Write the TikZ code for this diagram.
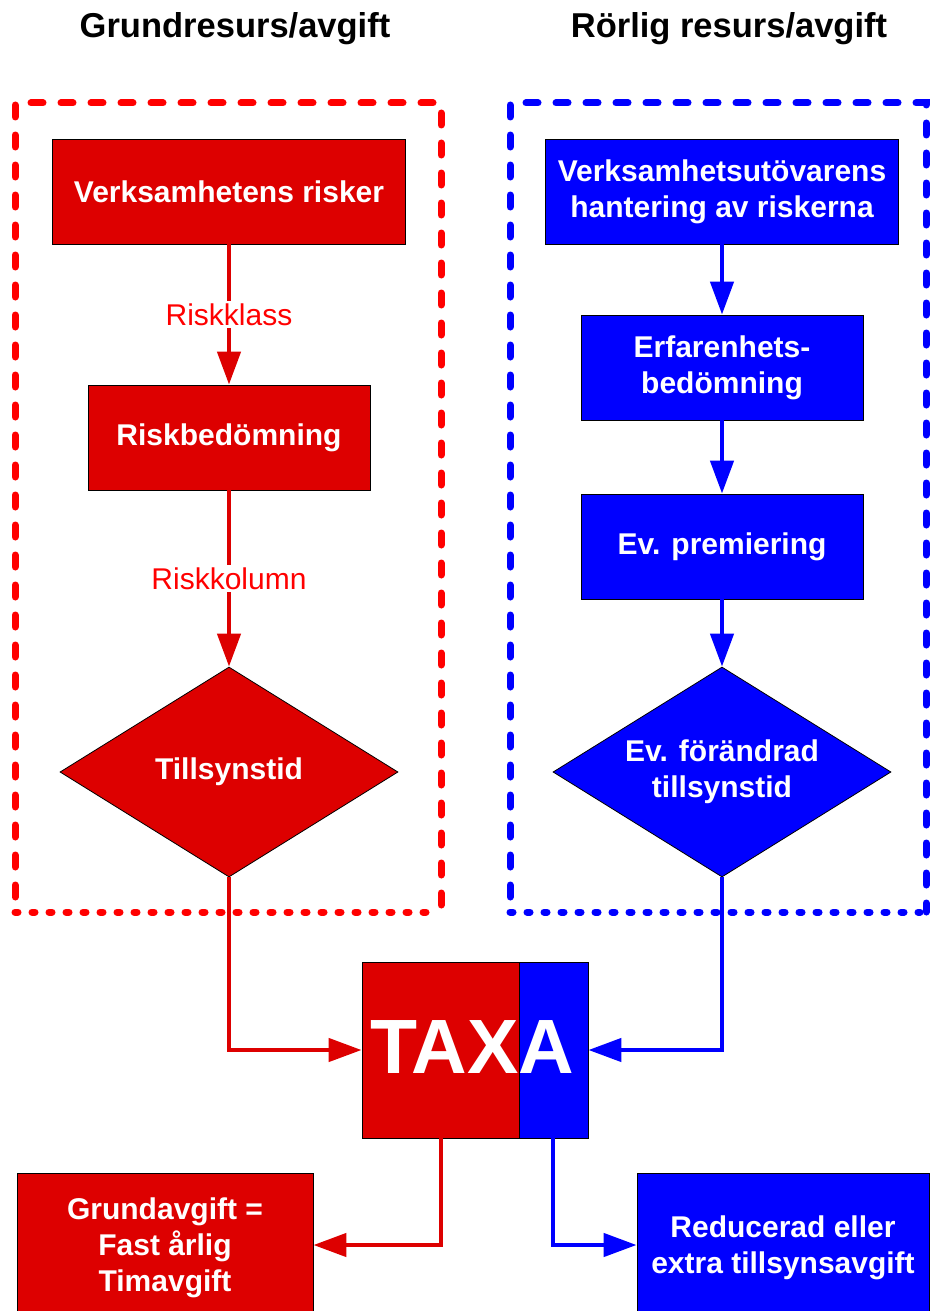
\documentclass[tikz,border=0pt]{standalone}
\usepackage{fontspec}
\setmainfont{Liberation Sans}
\usetikzlibrary{shapes.geometric,arrows.meta}
\definecolor{rfill}{HTML}{DD0000}
\definecolor{rdash}{HTML}{FF0000}
\definecolor{bfill}{HTML}{0000FF}
\tikzset{
  box/.style={draw=black, line width=0.8pt, inner sep=0pt, align=center, text=white,
    font=\fontsize{30}{36}\selectfont\bfseries},
  rbox/.style={box, fill=rfill},
  bbox/.style={box, fill=bfill},
  dia/.style={diamond, draw=black, line width=0.8pt, inner sep=0pt, align=center, text=white,
    minimum width=338pt, minimum height=210pt, shape aspect=1.61,
    font=\fontsize{30}{36}\selectfont\bfseries},
  conn/.style={line width=4.5pt, -{Triangle[length=33pt,width=23pt]}},
  rconn/.style={conn, draw=rfill},
  bconn/.style={conn, draw=bfill},
  lbl/.style={fill=white, text=rdash, inner sep=2pt, font=\fontsize{30}{34}\selectfont},
  title/.style={font=\fontsize{34.5}{38}\selectfont\bfseries},
  dashA/.style={line width=7pt, line cap=round, dash pattern=on 12pt off 18pt},
  dashB/.style={line width=7pt, line cap=round, dash pattern=on 3pt off 14pt},
}
\begin{document}
\begin{tikzpicture}[x=1pt,y=-1pt]
\useasboundingbox (0,0) rectangle (929,1311);
% titles
\node[title] (t1) at (235,29) {Grundresurs/avgift};
\node[title] (t2) at (729,29) {Rörlig resurs/avgift};
% dashed frames
\draw[dashA, draw=rdash] (15,897) -- (15,103) -- (441,103) -- (441,912);
\draw[dashB, draw=rdash] (15,912) -- (430,912);
\draw[dashA, draw=bfill] (510,897) -- (510,103) -- (926,103) -- (926,912);
\draw[dashB, draw=bfill] (510,912) -- (920,912);
% red column
\node[rbox, minimum width=353pt, minimum height=105pt] (r1) at (229,191.5) {Verksamhetens risker};
\node[rbox, minimum width=282pt, minimum height=105pt] (r2) at (229,437.5) {Riskbedömning};
\node[dia, fill=rfill] (r3) at (229,772) {Tillsynstid};
% blue column
\node[bbox, minimum width=353pt, minimum height=105pt] (b1) at (722,191.5) {Verksamhetsutövarens\\hantering av riskerna};
\node[bbox, minimum width=282pt, minimum height=105pt] (b2) at (722,367.5) {Erfarenhets-\\bedömning};
\node[bbox, minimum width=282pt, minimum height=105pt] (b3) at (722,546.5) {Ev. premiering};
\node[dia, fill=bfill] (b4) at (722,772) {Ev. förändrad\\tillsynstid};
% TAXA
\node[draw=black, line width=0.8pt, inner sep=0pt, minimum width=226pt, minimum height=176pt,
  path picture={
    \fill[rfill] (path picture bounding box.north west) rectangle ([xshift=157pt]path picture bounding box.south west);
    \fill[bfill] ([xshift=157pt]path picture bounding box.north west) rectangle (path picture bounding box.south east);
    \draw[black, line width=0.8pt] ([xshift=157pt]path picture bounding box.north west) -- ([xshift=157pt]path picture bounding box.south west);
  }] (taxa) at (475,1050) {};
\node[text=white, font=\fontsize{77}{77}\selectfont\bfseries, inner sep=0pt] (taxatext) at (472.5,1047) {TAXA};
% result boxes
\node[rbox, minimum width=296pt, minimum height=150pt] (g1) at (165,1248) {Grundavgift =\\Fast årlig\\Timavgift};
\node[bbox, minimum width=292pt, minimum height=150pt] (g2) at (783,1248) {Reducerad eller\\extra tillsynsavgift};
% connectors red
\draw[rconn] (r1) -- node[lbl] {Riskklass} (r2);
\draw[rconn] (r2) -- node[lbl, pos=0.5] {Riskkolumn} (r3);
\draw[rconn] (r3.south) |- (taxa.west);
\draw[rconn] ([xshift=-34pt]taxa.south) |- (g1.east |- 0,1245);
% connectors blue
\draw[bconn] (b1) -- (b2);
\draw[bconn] (b2) -- (b3);
\draw[bconn] (b3) -- (b4);
\draw[bconn] (b4.south) |- (taxa.east);
\draw[bconn] ([xshift=78pt]taxa.south) |- (g2.west |- 0,1245);
\end{tikzpicture}
\end{document}
